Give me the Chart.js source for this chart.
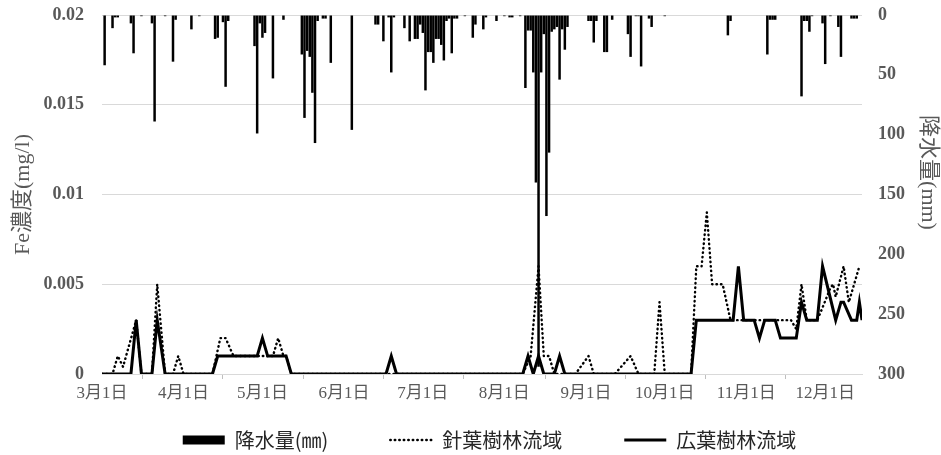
<!DOCTYPE html>
<html>
<head>
<meta charset="utf-8">
<script src="https://cdn.jsdelivr.net/npm/chart.js@4.4.1/dist/chart.umd.min.js"></script>
<style>
  html, body { margin: 0; padding: 0; background: #fff; }
  #wrap { width: 941px; height: 455px; }
</style>
</head>
<body>
<div id="wrap"><canvas id="c" width="941" height="455"></canvas></div>
<script>
// Calendar: days in each month from March to December
const MONTH_DAYS = [31, 30, 31, 30, 31, 31, 30, 31, 30, 31];

// x-axis tick dates and their labels
const tickDates  = ['3-01', '4-01', '5-01', '6-01', '7-01', '8-01', '9-01', '10-01', '11-01', '12-01'];
const tickLabels = ['3月1日', '4月1日', '5月1日', '6月1日', '7月1日', '8月1日', '9月1日', '10月1日', '11月1日', '12月1日'];
const lastDate = '12-15';

// Daily precipitation (mm), rainy days only
const rainDates = [
  '3-02','3-05','3-06','3-07','3-12','3-13','3-16','3-20','3-21','3-25','3-28','3-29',
  '4-04','4-07','4-13','4-14','4-16','4-17','4-18','4-28','4-29','4-30',
  '5-01','5-02','5-05','5-09','5-16','5-17','5-18','5-19','5-20','5-21','5-22','5-24','5-25','5-27',
  '6-04','6-13','6-14','6-16','6-18','6-19','6-20','6-24','6-26','6-28','6-29','6-30',
  '7-01','7-02','7-03','7-04','7-05','7-06','7-07','7-08','7-09','7-10','7-11','7-12','7-13','7-14',
  '7-17','7-20','7-21','7-24','7-25','7-29',
  '8-01','8-03','8-04','8-07','8-09','8-10','8-11','8-12','8-13','8-14','8-15','8-16','8-17','8-18',
  '8-19','8-20','8-21','8-22','8-23','8-24','8-25',
  '9-02','9-03','9-04','9-05','9-08','9-09','9-11','9-17','9-18','9-20','9-21','9-22','9-25','9-26',
  '10-01','10-25','10-26',
  '11-09','11-10','11-11','11-12','11-22','11-23','11-24','11-25','11-26','11-30',
  '12-01','12-03','12-06','12-07','12-11','12-12','12-13'
];
const rainMm = [
  42, 11, 2, 2, 7, 32, 1, 7, 89, 1, 39, 4,
  12, 1, 20, 19, 6, 60, 5, 26, 99, 7,
  19, 15, 53, 4, 33, 86, 30, 35, 65, 107, 5, 3, 3, 40,
  96, 8, 8, 22, 2, 48, 2, 11, 22, 20, 20, 8,
  15, 63, 31, 31, 40, 20, 20, 25, 38, 5, 3, 32, 3, 3,
  1, 19, 8, 12, 2, 5,
  1, 2, 2, 1, 61, 13, 13, 48, 140, 294, 48, 16, 168, 115,
  14, 12, 10, 54, 12, 29, 10,
  5, 5, 23, 5, 31, 31, 4, 16, 35, 1, 1, 43, 3, 10,
  1, 17, 5,
  33, 4, 4, 4, 68, 5, 5, 14, 1, 7,
  41, 1, 10, 35, 3, 3, 3
];

// Fe concentration (mg/l), coniferous catchment
const coniferDates = [
  '3-01','3-05','3-07','3-09','3-14','3-16','3-20','3-22','3-25','3-28','3-30','4-01',
  '4-12','4-15','4-17','4-20','5-05','5-07','5-09','5-10','5-12',
  '8-08','8-11','8-14','8-16','8-18','8-20','8-28','9-02','9-04','9-12','9-18','9-21',
  '9-27','9-29','10-01','10-11','10-13','10-15','10-17','10-19','10-23','10-26',
  '11-18','11-20','11-22','11-24','11-28','11-30','12-03','12-04','12-05','12-08','12-10','12-14'
];
const coniferFe = [
  0, 0, 0.001, 0.0004, 0.003, 0, 0, 0.005, 0, 0, 0.001, 0,
  0, 0.002, 0.002, 0.001, 0.001, 0.002, 0.001, 0.001, 0,
  0, 0.001, 0.006, 0.001, 0.001, 0, 0, 0.001, 0, 0, 0.001, 0,
  0, 0.004, 0, 0, 0.006, 0.006, 0.009, 0.005, 0.005, 0.003,
  0.003, 0.0025, 0.005, 0.003, 0.003, 0.0037, 0.0048, 0.005, 0.0043, 0.006, 0.004, 0.006
];

// Fe concentration (mg/l), broadleaf catchment
const broadleafDates = [
  '3-01','3-12','3-14','3-16','3-20','3-22','3-25','4-12','4-14','4-29','5-01','5-03','5-10','5-12',
  '6-17','6-19','6-21','8-08','8-10','8-12','8-14','8-16','8-20','8-22','8-24',
  '10-11','10-13','10-27','10-29','10-31','11-04','11-06','11-08','11-12','11-14','11-20','11-22',
  '11-24','11-28','11-30','12-05','12-07','12-08','12-11','12-13','12-14','12-15'
];
const broadleafFe = [
  0, 0, 0.003, 0, 0, 0.003, 0, 0, 0.001, 0.001, 0.002, 0.001, 0.001, 0,
  0, 0.001, 0, 0, 0.001, 0, 0.001, 0, 0, 0.001, 0,
  0, 0.003, 0.003, 0.006, 0.003, 0.003, 0.002, 0.003, 0.003, 0.002, 0.002, 0.004,
  0.003, 0.003, 0.006, 0.003, 0.004, 0.004, 0.003, 0.003, 0.004, 0.003
];

// Day offset from March 1st
function dayIndex(md) {
  const [m, d] = md.split('-').map(Number);
  let n = 0;
  for (let k = 3; k < m; k++) n += MONTH_DAYS[k - 3];
  return n + d - 1;
}
const toPoints = (dates, vals) => dates.map((d, i) => ({ x: dayIndex(d), y: vals[i] }));
const tickDays = tickDates.map(dayIndex);

const GRAY = '#595959';
const SERIF = '"Liberation Serif", "Noto Sans CJK JP", serif';
const LEGEND_TOP = 430;
const LEGEND_DX = 19;

// Place the legend row at a fixed spot below the date labels
const legendRow = {
  id: 'legendRow',
  afterLayout(chart) {
    const lg = chart.legend;
    if (!lg) return;
    lg.top = LEGEND_TOP - lg.options.labels.padding;
    lg.bottom = chart.height;
    lg.height = lg.bottom - lg.top;
    lg.left += LEGEND_DX;
    lg.right += LEGEND_DX;
  }
};

new Chart(document.getElementById('c'), {
  type: 'bar',
  plugins: [legendRow],
  data: {
    datasets: [
      {
        type: 'bar',
        label: '降水量(㎜)',
        data: toPoints(rainDates, rainMm),
        yAxisID: 'yR',
        backgroundColor: '#000',
        borderWidth: 0,
        barPercentage: 0.95,
        categoryPercentage: 1,
        order: 3
      },
      {
        type: 'line',
        label: '針葉樹林流域',
        data: toPoints(coniferDates, coniferFe),
        yAxisID: 'y',
        borderColor: '#000',
        backgroundColor: '#000',
        borderWidth: 2.4,
        borderDash: [0.5, 4],
        borderCapStyle: 'round',
        borderJoinStyle: 'round',
        pointRadius: 0,
        tension: 0,
        order: 2
      },
      {
        type: 'line',
        label: '広葉樹林流域',
        data: toPoints(broadleafDates, broadleafFe),
        yAxisID: 'y',
        borderColor: '#000',
        backgroundColor: '#000',
        borderWidth: 3,
        borderJoinStyle: 'miter',
        pointRadius: 0,
        tension: 0,
        order: 1
      }
    ]
  },
  options: {
    responsive: false,
    animation: false,
    devicePixelRatio: 1,
    layout: { padding: { top: 15, left: 0, right: 0, bottom: 0 } },
    plugins: {
      tooltip: { enabled: false },
      legend: {
        position: 'bottom',
        maxHeight: 45,
        labels: {
          usePointStyle: true,
          pointStyleWidth: 42,
          boxHeight: 9,
          padding: 62,
          font: { family: '"Noto Sans CJK JP", sans-serif', size: 20 },
          generateLabels(chart) {
            return chart.data.datasets.map((ds, i) => {
              const isBar = ds.type === 'bar';
              return {
                text: ds.label,
                datasetIndex: i,
                hidden: !chart.isDatasetVisible(i),
                fontColor: '#262626',
                fillStyle: isBar ? ds.backgroundColor : 'rgba(0,0,0,0)',
                strokeStyle: ds.borderColor || ds.backgroundColor,
                lineWidth: isBar ? 0 : ds.borderWidth,
                lineDash: ds.borderDash || [],
                lineCap: ds.borderCapStyle || 'butt',
                pointStyle: isBar ? 'rect' : 'line',
                rotation: 0
              };
            });
          }
        }
      }
    },
    scales: {
      x: {
        type: 'linear',
        offset: false,
        min: 0,
        max: dayIndex(lastDate),
        afterBuildTicks(scale) { scale.ticks = tickDays.map((v) => ({ value: v })); },
        afterFit(scale) { scale.height = 36; },
        ticks: {
          autoSkip: false,
          maxRotation: 0,
          padding: 4,
          color: GRAY,
          font: { family: SERIF, size: 17 },
          callback: (v) => tickLabels[tickDays.indexOf(v)]
        },
        grid: { drawOnChartArea: false, drawTicks: true, tickLength: 5, color: '#bfbfbf' },
        border: { display: true, color: '#d9d9d9' }
      },
      y: {
        position: 'left',
        min: 0,
        max: 0.02,
        afterFit(scale) { scale.width = 102; },
        ticks: {
          stepSize: 0.005,
          padding: 2,
          color: GRAY,
          font: { family: SERIF, size: 18, weight: 'bold' },
          callback: (v) => String(parseFloat(v.toFixed(3)))
        },
        grid: { color: '#d9d9d9', drawTicks: true, tickLength: 16, tickColor: 'rgba(0,0,0,0)' },
        border: { display: false },
        title: {
          display: true,
          text: 'Fe濃度(mg/l)',
          color: GRAY,
          padding: { top: 10, bottom: 0 },
          font: { family: SERIF, size: 22 }
        }
      },
      yR: {
        position: 'right',
        reverse: true,
        min: 0,
        max: 300,
        afterFit(scale) { scale.width = 79; },
        ticks: {
          stepSize: 50,
          padding: 2,
          color: GRAY,
          font: { family: SERIF, size: 18, weight: 'bold' }
        },
        grid: { drawOnChartArea: false, drawTicks: true, tickLength: 14, tickColor: 'rgba(0,0,0,0)' },
        border: { display: false },
        title: {
          display: true,
          // two ideographic spaces at the end lift the title towards the top of the axis
          text: '降水量(mm)\u3000\u3000',
          color: GRAY,
          padding: { top: 0, bottom: 0 },
          font: { family: SERIF, size: 22 }
        }
      }
    }
  }
});
</script>
</body>
</html>
